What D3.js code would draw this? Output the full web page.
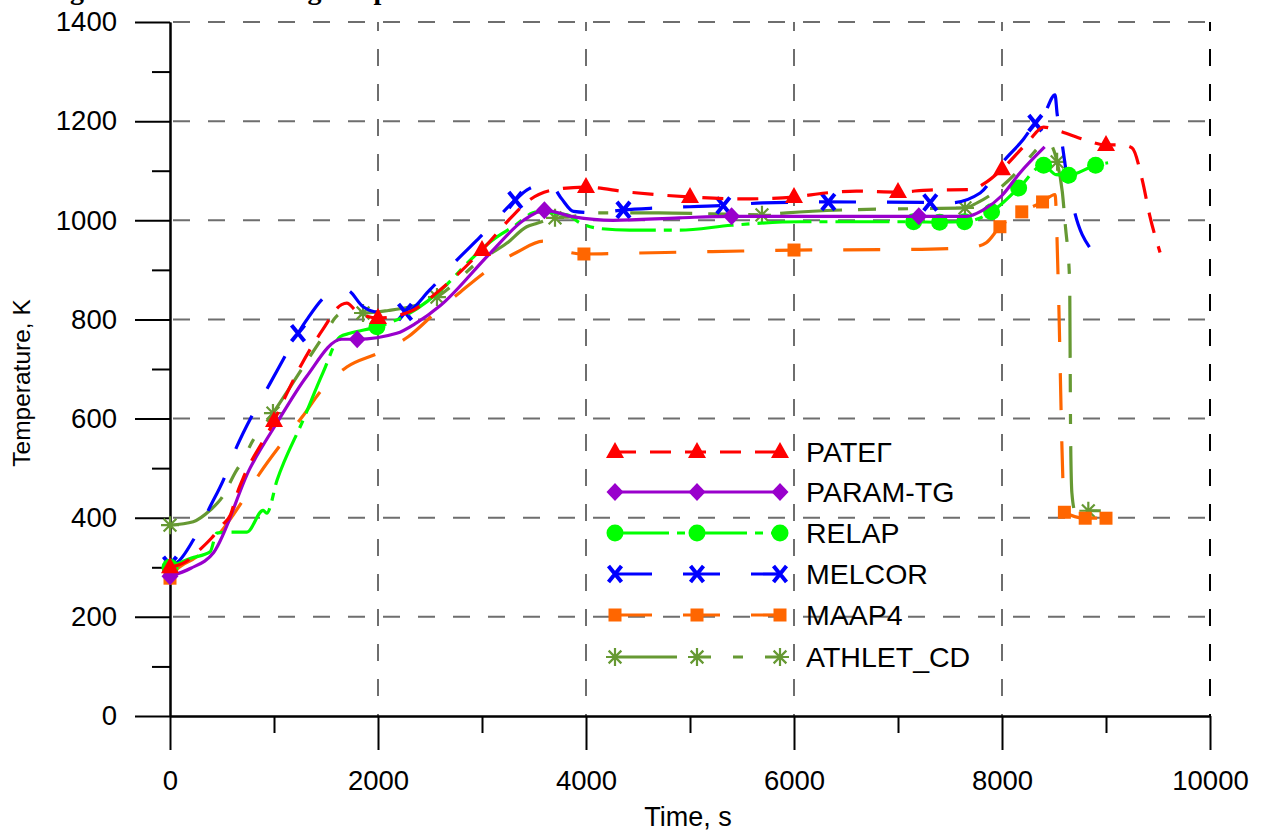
<!DOCTYPE html>
<html>
<head>
<meta charset="utf-8">
<script src="https://cdn.jsdelivr.net/npm/d3@7"></script>
<style>
  html, body { margin: 0; padding: 0; background: #fff; }
  svg { display: block; }
  text { font-family: "Liberation Sans", Arial, sans-serif; fill: #000; }
</style>
</head>
<body>
<svg id="chart" width="1267" height="832"></svg>
<script>
// Cladding temperature histories, [time s, temperature K]
const rateg = [[0,300],[150,311],[300,338],[400,359],[500,385],[580,405],[650,452],[700,478],[1000,595],[1106,643],[1221,692],[1470,780],[1650,830],[1700,833],[1800,815],[2000,803],[2300,815],[2600,860],[3000,940],[3300,1010],[3450,1040],[3700,1062],[4000,1067],[4400,1057],[5000,1047],[5500,1043],[6000,1047],[6300,1055],[6600,1059],[7000,1057],[7300,1061],[7700,1062],[7850,1077],[8000,1103],[8250,1158],[8400,1188],[8550,1180],[8800,1162],[9000,1152],[9150,1152],[9250,1146],[9350,1080],[9420,1010],[9520,935]];
const paramTg = [[0,282],[200,298],[420,330],[770,500],[1030,592],[1310,684],[1650,760],[1800,760],[2180,772],[2370,793],[2600,828],[3080,934],[3400,1000],[3600,1020],[3880,1007],[4260,1000],[4900,1005],[5400,1008],[6500,1008],[7200,1008],[7660,1008],[7820,1021],[8000,1050],[8170,1095],[8410,1148]];
const relap = [[0,300],[200,318],[385,331],[450,369],[580,371],[740,371],[895,415],[930,409],[1030,476],[1280,597],[1470,692],[1635,765],[1730,772],[1990,785],[2240,805],[2660,870],[2860,914],[3100,960],[3300,987],[3530,1017],[3820,1011],[3940,995],[4110,984],[4420,980],[4900,980],[5400,990],[6060,997],[7150,997],[7400,996],[7640,997],[7900,1017],[8160,1065],[8400,1111],[8520,1092],[8640,1091],[8900,1111],[9020,1116]];
const melcor = [[0,305],[64,309],[224,355],[385,422],[513,476],[641,543],[801,611],[962,671],[1122,732],[1231,772],[1314,799],[1490,846],[1600,858],[1700,859],[1860,825],[2000,815],[2260,815],[2500,860],[2760,920],[2980,966],[3320,1041],[3430,1061],[3650,1075],[3760,1045],[3880,1018],[4100,1015],[4360,1021],[4700,1025],[5320,1030],[5700,1035],[6330,1037],[7310,1036],[7500,1035],[7790,1055],[8010,1118],[8200,1162],[8320,1196],[8400,1212],[8510,1253],[8530,1215],[8580,1152],[8610,1108],[8700,1015],[8846,944]];
const maap4 = [[0,278],[64,295],[256,321],[480,369],[692,432],[865,490],[1077,551],[1270,603],[1460,658],[1700,704],[2000,732],[2290,765],[2550,813],[2790,855],[3060,900],[3340,936],[3590,958],[3650,950],[3980,932],[4500,934],[5000,936],[5500,938],[6000,940],[7000,941],[7700,945],[7850,955],[7980,987],[8190,1017],[8390,1037],[8510,1052],[8540,880],[8585,480],[8600,411],[8800,399],[9000,399]];
const athletCd = [[0,385],[224,392],[385,415],[497,440],[641,496],[692,512],[801,557],[850,571],[990,611],[1138,658],[1471,765],[1615,809],[1663,815],[1856,813],[2100,818],[2300,825],[2567,845],[2700,866],[2950,914],[3240,954],[3430,987],[3530,994],[3702,1005],[3850,1007],[4100,1015],[4700,1015],[5200,1013],[5692,1011],[5930,1015],[6500,1021],[7000,1023],[7644,1025],[7760,1035],[8190,1108],[8270,1128],[8440,1158],[8530,1118],[8580,1057],[8610,987],[8650,880],[8660,560],[8672,450],[8700,415],[8830,414],[8950,414]];

// Times at which each curve carries a symbol
const rategMarks = [0,1000,2000,3000,4000,5000,6000,7000,8000,9000];
const paramTgMarks = [0,1800,3600,5400,7200];
const relapMarks = [0,1990,7150,7400,7640,7900,8160,8400,8640,8900];
const melcorMarks = [0,1231,2260,3320,4360,5320,6330,7310,8320];
const maap4Marks = [0,3980,6000,7980,8190,8390,8600,8800,9000];
const athletCdMarks = [0,990,1856,2567,3702,5692,7644,8530,8830];

const seriesNames = ["РАТЕГ","PARAM-TG","RELAP","MELCOR","MAAP4","ATHLET_CD"];

// Axis ticks
const xMajorTicks = [0,2000,4000,6000,8000,10000];
const xMinorTicks = [1000,3000,5000,7000,9000];
const yMajorTicks = [0,200,400,600,800,1000,1200,1400];
const yMinorTicks = [100,300,500,700,900,1100,1300];

const xTitle = "Time, s";
const yTitle = "Temperature, K";
const figTitle = "Figure 9. Fuel cladding temperature";

const series = [
  {name: seriesNames[0], data: rateg,    marks: rategMarks,    color: "#ff0000", dash: "21,14",           symbol: "triangle"},
  {name: seriesNames[1], data: paramTg,  marks: paramTgMarks,  color: "#9900cc", dash: null,              symbol: "diamond"},
  {name: seriesNames[2], data: relap,    marks: relapMarks,    color: "#00ff00", dash: "54,8,8,8",        symbol: "circle"},
  {name: seriesNames[3], data: melcor,   marks: melcorMarks,   color: "#0000ff", dash: "37,31",           symbol: "cross"},
  {name: seriesNames[4], data: maap4,    marks: maap4Marks,    color: "#ff6600", dash: "37,31",           symbol: "square"},
  {name: seriesNames[5], data: athletCd, marks: athletCdMarks, color: "#669933", dash: "62,16,18,22,10,22", symbol: "star"}
];

const svg = d3.select("#chart");
const x = d3.scaleLinear().domain([0, 10000]).range([170, 1210]);
const y = d3.scaleLinear().domain([0, 1400]).range([716, 22]);

// Caption above the plot, running off the top edge
svg.append("text")
  .attr("x", 45).attr("y", -1)
  .style("font-family", "'Liberation Serif', 'Times New Roman', serif")
  .style("font-weight", "bold").style("font-size", "28px")
  .text(figTitle);

// Dashed grid
const grid = svg.append("g");
grid.selectAll("line.h").data(yMajorTicks.filter(d => d > 0)).enter().append("line")
  .attr("x1", x(0)).attr("x2", x(10000))
  .attr("y1", d => y(d)).attr("y2", d => y(d))
  .attr("stroke", "#6e6e6e").attr("stroke-width", 2).attr("stroke-dasharray", "17,18")
  .attr("stroke-dashoffset", -3);
grid.selectAll("line.v").data(xMajorTicks.filter(d => d > 0)).enter().append("line")
  .attr("x1", d => x(d)).attr("x2", d => x(d))
  .attr("y1", y(0)).attr("y2", y(1400))
  .attr("stroke", d => d === 10000 ? "#000" : "#6e6e6e").attr("stroke-width", 2)
  .attr("stroke-dasharray", "17,18").attr("stroke-dashoffset", -20);

// Axes: major ticks long, minor ticks short, both pointing outward
function styleAxis(g) {
  g.selectAll("path.domain").attr("stroke", "#000").attr("stroke-width", 2);
  g.selectAll(".tick line").attr("stroke", "#000").attr("stroke-width", 2);
  g.selectAll(".tick text").style("font-size", "27.5px").style("font-family", "'Liberation Sans', Arial, sans-serif").attr("fill", "#000");
}
const yAxisG = svg.append("g").attr("transform", `translate(${x(0)},0)`)
  .call(d3.axisLeft(y).tickValues(yMajorTicks).tickSize(35).tickSizeOuter(0).tickPadding(18).tickFormat(d3.format("d")));
styleAxis(yAxisG);
const yMinorG = svg.append("g").attr("transform", `translate(${x(0)},0)`)
  .call(d3.axisLeft(y).tickValues(yMinorTicks).tickSize(18).tickSizeOuter(0).tickFormat(""));
styleAxis(yMinorG);
const xAxisG = svg.append("g").attr("transform", `translate(0,${y(0)})`)
  .call(d3.axisBottom(x).tickValues(xMajorTicks).tickSize(34).tickSizeOuter(0).tickPadding(20).tickFormat(d3.format("d")));
styleAxis(xAxisG);
const xMinorG = svg.append("g").attr("transform", `translate(0,${y(0)})`)
  .call(d3.axisBottom(x).tickValues(xMinorTicks).tickSize(17).tickSizeOuter(0).tickFormat(""));
styleAxis(xMinorG);

// Axis titles
svg.append("text")
  .attr("x", x(5000) - 2).attr("y", 826)
  .attr("text-anchor", "middle").style("font-size", "27px")
  .text(xTitle);
svg.append("text")
  .attr("transform", `translate(30,383) rotate(-90)`)
  .attr("text-anchor", "middle").style("font-size", "24.5px")
  .text(yTitle);

// Symbol shapes
function drawSymbol(g, type, cx, cy, color) {
  if (type === "triangle") {
    g.append("path").attr("d", `M${cx},${cy-10}L${cx+9},${cy+6}L${cx-9},${cy+6}Z`).attr("fill", color);
  } else if (type === "diamond") {
    g.append("path").attr("d", `M${cx},${cy-9}L${cx+8.5},${cy}L${cx},${cy+9}L${cx-8.5},${cy}Z`).attr("fill", color);
  } else if (type === "circle") {
    g.append("circle").attr("cx", cx).attr("cy", cy).attr("r", 8.5).attr("fill", color);
  } else if (type === "square") {
    g.append("rect").attr("x", cx-6.5).attr("y", cy-6.5).attr("width", 13).attr("height", 13).attr("fill", color);
  } else if (type === "cross") {
    g.append("path").attr("d", `M${cx-6.5},${cy-8}L${cx+6.5},${cy+8}M${cx+6.5},${cy-8}L${cx-6.5},${cy+8}`)
      .attr("stroke", color).attr("stroke-width", 4).attr("fill", "none");
  } else if (type === "star") {
    const r = 9, p = [];
    for (let k = 0; k < 4; k++) {
      const a = k * Math.PI / 4;
      p.push(`M${cx - r*Math.cos(a)},${cy - r*Math.sin(a)}L${cx + r*Math.cos(a)},${cy + r*Math.sin(a)}`);
    }
    g.append("path").attr("d", p.join("")).attr("stroke", color).attr("stroke-width", 2.2).attr("fill", "none");
  }
}

// Curves, drawn last-to-first so the first series sits on top
const plot = svg.append("g");
const line = d3.line().x(d => x(d[0])).y(d => y(d[1])).curve(d3.curveMonotoneX);
series.slice().reverse().forEach(s => {
  const g = plot.append("g");
  g.append("path").datum(s.data).attr("d", line)
    .attr("fill", "none").attr("stroke", s.color).attr("stroke-width", 3.2)
    .attr("stroke-linejoin", "round")
    .attr("stroke-dasharray", s.dash);
  s.marks.forEach(t => {
    const pt = s.data.find(d => d[0] === t);
    if (pt) drawSymbol(g, s.symbol, x(pt[0]), y(pt[1]), s.color);
  });
});

// Legend
const legend = svg.append("g");
const legendRowY = [452, 492, 533, 574, 615, 657];
series.forEach((s, i) => {
  const g = legend.append("g");
  const ly = legendRowY[i];
  g.append("line").attr("x1", 615).attr("x2", 780).attr("y1", ly).attr("y2", ly)
    .attr("stroke", s.color).attr("stroke-width", 3.2).attr("stroke-dasharray", s.dash);
  [615, 697, 780].forEach(mx => drawSymbol(g, s.symbol, mx, ly, s.color));
  g.append("text").attr("x", 806).attr("y", ly).attr("dy", "0.36em")
    .style("font-size", "28.5px").text(s.name);
});
</script>
</body>
</html>
